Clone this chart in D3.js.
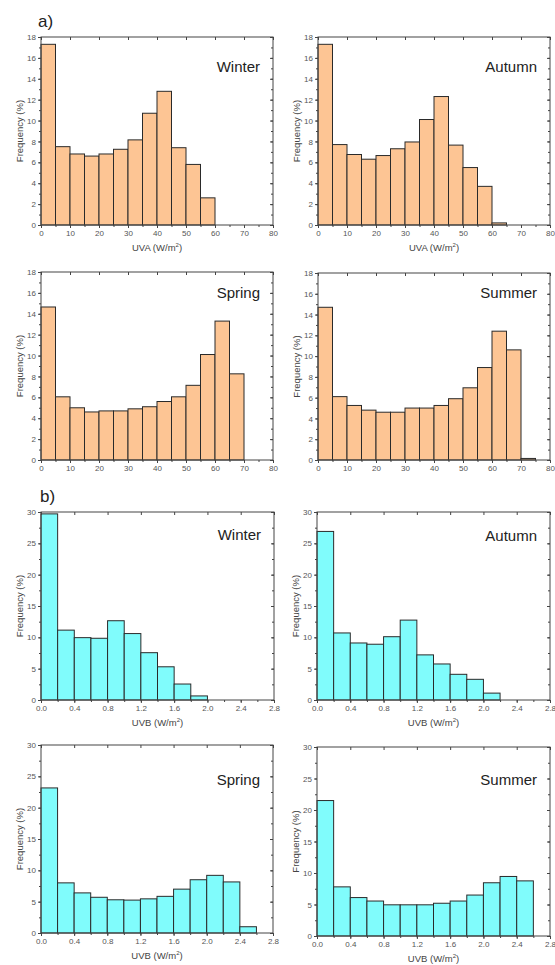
<!DOCTYPE html>
<html>
<head>
<meta charset="utf-8">
<script src="https://cdn.jsdelivr.net/npm/d3@7"></script>
<style>
  body { margin: 0; background: #fff; }
  svg { font-family: "Liberation Sans", Arial, sans-serif; }
</style>
</head>
<body>
<div id="vis"></div>
<script>
// Frame
const FRAME_WIDTH = 555;
const FRAME_HEIGHT = 965;

// Bin starts (histogram bins)
const UVA_BINS = [0, 5, 10, 15, 20, 25, 30, 35, 40, 45, 50, 55, 60, 65, 70, 75];
const UVB_BINS = [0, 0.2, 0.4, 0.6, 0.8, 1.0, 1.2, 1.4, 1.6, 1.8, 2.0, 2.2, 2.4, 2.6];

// Frequencies (%)
const UVA_WINTER = [17.3, 7.5, 6.8, 6.6, 6.8, 7.25, 8.15, 10.7, 12.8, 7.4, 5.8, 2.6, 0, 0, 0, 0];
const UVA_AUTUMN = [17.3, 7.7, 6.75, 6.3, 6.65, 7.3, 7.95, 10.1, 12.3, 7.65, 5.5, 3.7, 0.2, 0, 0, 0];
const UVA_SPRING = [14.65, 6.05, 5.0, 4.6, 4.7, 4.7, 4.9, 5.1, 5.6, 6.05, 7.15, 10.1, 13.3, 8.25, 0, 0];
const UVA_SUMMER = [14.7, 6.1, 5.25, 4.8, 4.6, 4.6, 5.0, 5.0, 5.25, 5.9, 6.95, 8.9, 12.4, 10.6, 0.15, 0];

const UVB_WINTER = [29.7, 11.15, 9.95, 9.85, 12.65, 10.6, 7.55, 5.3, 2.55, 0.65, 0, 0, 0, 0];
const UVB_AUTUMN = [26.9, 10.7, 9.1, 8.9, 10.1, 12.75, 7.2, 5.75, 4.1, 3.3, 1.1, 0, 0, 0];
const UVB_SPRING = [23.15, 8.0, 6.4, 5.7, 5.3, 5.25, 5.45, 5.85, 7.0, 8.5, 9.2, 8.15, 1.0, 0];
const UVB_SUMMER = [21.5, 7.8, 6.1, 5.55, 4.95, 4.95, 4.95, 5.2, 5.55, 6.5, 8.45, 9.45, 8.75, 0];

// Axis ticks
const UVA_X_TICKS = [0, 10, 20, 30, 40, 50, 60, 70, 80];
const UVA_Y_TICKS = [0, 2, 4, 6, 8, 10, 12, 14, 16, 18];
const UVB_X_TICKS = [0, 0.4, 0.8, 1.2, 1.6, 2.0, 2.4, 2.8];
const UVB_Y_TICKS = [0, 5, 10, 15, 20, 25, 30];

// Colors
const UVA_FILL = "#fdc594";
const UVB_FILL = "#80fcfc";

const UVA = { bins: UVA_BINS, width: 5, xMax: 80, yMax: 18, xTicks: UVA_X_TICKS, yTicks: UVA_Y_TICKS,
              xMinor: 5, yMinor: 1, fmt: d3.format("d"), fill: UVA_FILL, title: "UVA (W/m" };
const UVB = { bins: UVB_BINS, width: 0.2, xMax: 2.8, yMax: 30, xTicks: UVB_X_TICKS, yTicks: UVB_Y_TICKS,
              xMinor: 0.2, yMinor: 2.5, fmt: d3.format(".1f"), fill: UVB_FILL, title: "UVB (W/m" };

// Panel layout (plot areas)
const PANELS = [
  { kind: UVA, values: UVA_WINTER, name: "Winter", left: 41, right: 273, top: 37, bottom: 225, labelDy: 35, xTitle: true },
  { kind: UVA, values: UVA_AUTUMN, name: "Autumn", left: 318, right: 550, top: 37, bottom: 225, labelDy: 35, xTitle: true },
  { kind: UVA, values: UVA_SPRING, name: "Spring", left: 41, right: 273, top: 272, bottom: 460, labelDy: 26, xTitle: false },
  { kind: UVA, values: UVA_SUMMER, name: "Summer", left: 318, right: 550, top: 273, bottom: 460, labelDy: 25, xTitle: false },
  { kind: UVB, values: UVB_WINTER, name: "Winter", left: 41, right: 274, top: 512, bottom: 700, labelDy: 28, xTitle: true },
  { kind: UVB, values: UVB_AUTUMN, name: "Autumn", left: 317, right: 550, top: 512, bottom: 700, labelDy: 29, xTitle: true },
  { kind: UVB, values: UVB_SPRING, name: "Spring", left: 41, right: 273, top: 745, bottom: 933, labelDy: 40, xTitle: true },
  { kind: UVB, values: UVB_SUMMER, name: "Summer", left: 317, right: 550, top: 747, bottom: 936, labelDy: 38, xTitle: true }
];

const FRAME = d3.select("#vis")
    .append("svg")
    .attr("width", FRAME_WIDTH)
    .attr("height", FRAME_HEIGHT);

function minorTicks(max, step) {
  // minor tick positions along an axis
  return d3.range(0, max + step / 2, step);
}

function styleAxis(g) {
  g.select(".domain").remove();
  g.selectAll("line").attr("stroke", "#444");
  g.selectAll("text").attr("fill", "#555").attr("font-size", "8px");
}

function drawPanel(p) {
  const k = p.kind;
  const X = d3.scaleLinear().domain([0, k.xMax]).range([p.left, p.right]);
  const Y = d3.scaleLinear().domain([0, k.yMax]).range([p.bottom, p.top]);
  const g = FRAME.append("g");

  // bars
  g.selectAll("rect.bar")
      .data(p.values)
      .enter()
      .append("rect")
      .attr("class", "bar")
      .attr("x", (d, i) => X(k.bins[i]))
      .attr("y", d => Y(d))
      .attr("width", (d, i) => X(k.bins[i] + k.width) - X(k.bins[i]))
      .attr("height", d => Y(0) - Y(d))
      .attr("fill", k.fill)
      .attr("stroke", "#2a2a2a")
      .attr("stroke-width", 1);

  // frame
  g.append("rect")
      .attr("x", p.left).attr("y", p.top)
      .attr("width", p.right - p.left).attr("height", p.bottom - p.top)
      .attr("fill", "none").attr("stroke", "#444").attr("stroke-width", 1);

  const xMinor = minorTicks(k.xMax, k.xMinor);
  const yMinor = minorTicks(k.yMax, k.yMinor);

  // bottom axis
  g.append("g").attr("transform", "translate(0," + p.bottom + ")")
      .call(d3.axisBottom(X).tickValues(k.xTicks).tickSize(3).tickPadding(2).tickFormat(k.fmt))
      .call(styleAxis);
  g.append("g").attr("transform", "translate(0," + p.bottom + ")")
      .call(d3.axisBottom(X).tickValues(xMinor).tickSize(2).tickFormat(""))
      .call(styleAxis);

  // top axis (inward)
  g.append("g").attr("transform", "translate(0," + p.top + ")")
      .call(d3.axisBottom(X).tickValues(k.xTicks).tickSize(3).tickFormat(""))
      .call(styleAxis);

  // left axis
  g.append("g").attr("transform", "translate(" + p.left + ",0)")
      .call(d3.axisLeft(Y).tickValues(k.yTicks).tickSize(3).tickPadding(2).tickFormat(d3.format("d")))
      .call(styleAxis);
  g.append("g").attr("transform", "translate(" + p.left + ",0)")
      .call(d3.axisLeft(Y).tickValues(yMinor).tickSize(2).tickFormat(""))
      .call(styleAxis);

  // right axis (inward)
  g.append("g").attr("transform", "translate(" + p.right + ",0)")
      .call(d3.axisLeft(Y).tickValues(k.yTicks).tickSize(3).tickFormat(""))
      .call(styleAxis);
  g.append("g").attr("transform", "translate(" + p.right + ",0)")
      .call(d3.axisLeft(Y).tickValues(yMinor).tickSize(2).tickFormat(""))
      .call(styleAxis);

  // y title
  g.append("text")
      .attr("transform", "translate(" + (p.left - 18) + "," + ((p.top + p.bottom) / 2) + ") rotate(-90)")
      .attr("text-anchor", "middle")
      .attr("font-size", "9.5px")
      .attr("fill", "#444")
      .text("Frequency (%)");

  // x title
  if (p.xTitle) {
    const t = g.append("text")
        .attr("x", (p.left + p.right) / 2)
        .attr("y", p.bottom + 26)
        .attr("text-anchor", "middle")
        .attr("font-size", "9.5px")
        .attr("fill", "#444");
    t.append("tspan").text(k.title);
    t.append("tspan").attr("font-size", "6px").attr("dy", -4).text("2");
    t.append("tspan").attr("dy", 4).text(")");
  }

  // season label
  g.append("text")
      .attr("x", p.right - 13)
      .attr("y", p.top + p.labelDy)
      .attr("text-anchor", "end")
      .attr("font-size", "15px")
      .attr("fill", "#222")
      .text(p.name);
}

PANELS.forEach(drawPanel);

// panel letters
FRAME.append("text").attr("x", 38).attr("y", 27).attr("font-size", "17px").attr("fill", "#222").text("a)");
FRAME.append("text").attr("x", 40).attr("y", 502).attr("font-size", "17px").attr("fill", "#222").text("b)");
</script>
</body>
</html>
